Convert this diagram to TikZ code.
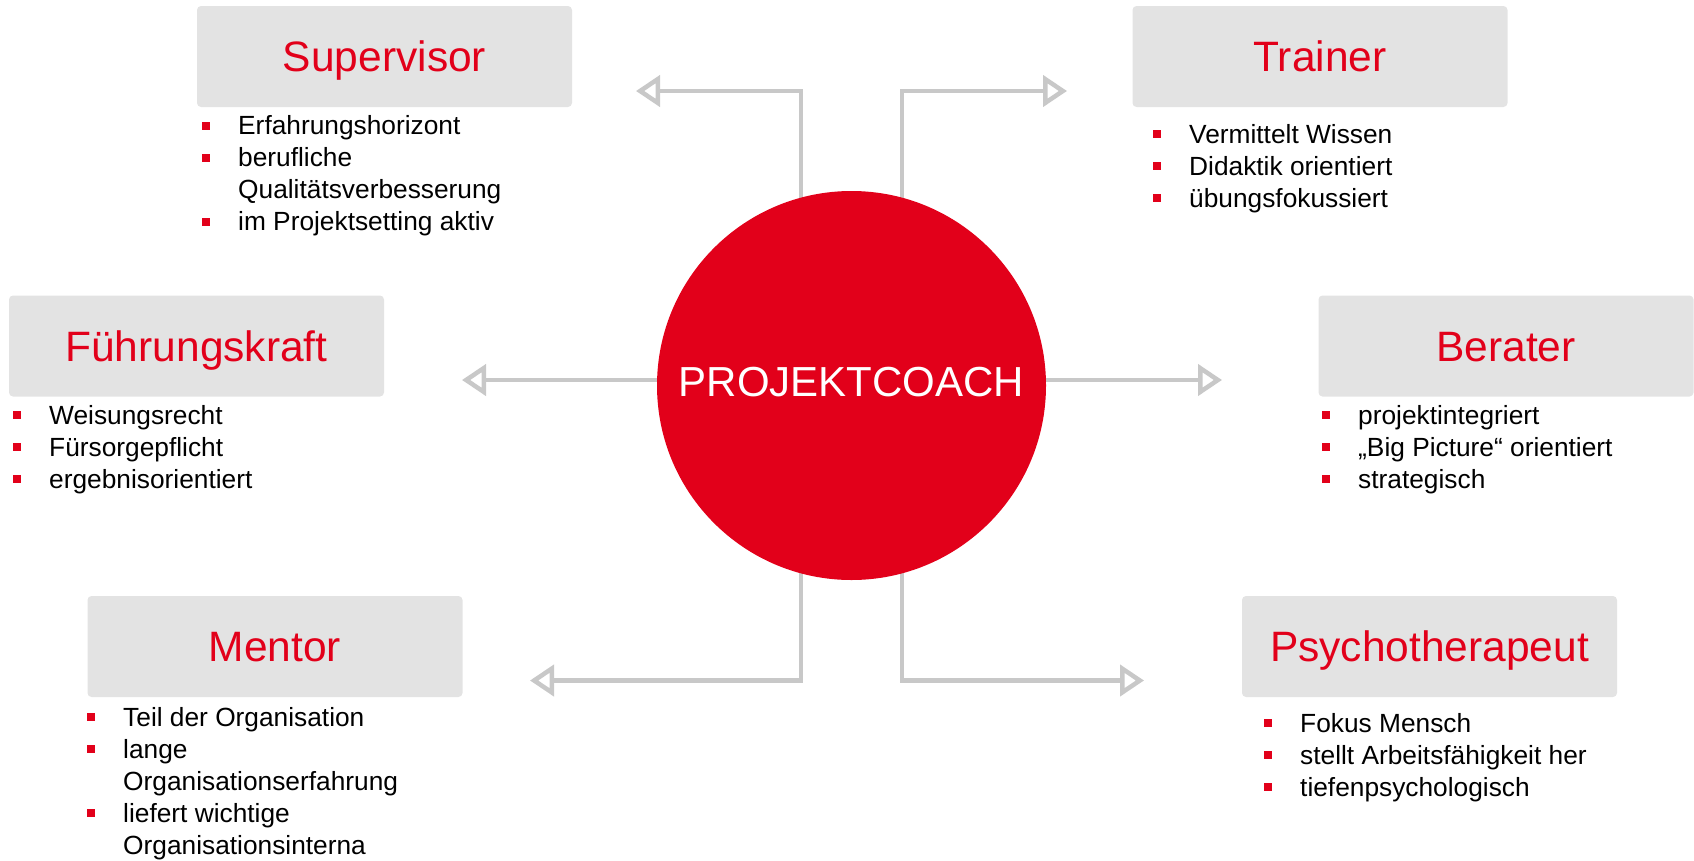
\documentclass[tikz,border=0pt]{standalone}
\usepackage{fontspec}
\setmainfont{Liberation Sans}
\usetikzlibrary{arrows.meta,backgrounds}
\definecolor{cred}{HTML}{E2001A}
\definecolor{cbox}{HTML}{E3E3E3}
\definecolor{cline}{HTML}{C8C8C8}
\newcommand{\bul}{\makebox[36pt][l]{\textcolor{cred}{\rule[5.3pt]{8pt}{8pt}}}}
\begin{document}
\begin{tikzpicture}[x=1pt,y=-1pt,
  rolebox/.style={fill=cbox, rounded corners=4pt, minimum width=375pt, minimum height=101pt,
    inner sep=0pt, text=cred, font=\fontsize{42.5}{50}\selectfont, text height=30pt, text depth=0pt},
  hub/.style={circle, fill=cred, minimum size=389pt, inner sep=0pt, text=white,
    font=\fontsize{42}{50}\selectfont, text height=30pt, text depth=8pt},
  blist/.style={anchor=base west, inner sep=0pt, font=\fontsize{26.3}{32}\selectfont},
  conn/.style={draw=cline, line width=4.5pt, -{Triangle[open, length=24pt, width=31pt]}},
]
\useasboundingbox (0,0) rectangle (1694,860);

% role boxes
\node[rolebox] (sup) at (384.5,56.5) {Supervisor};
\node[rolebox] (tra) at (1320,56.5) {Trainer};
\node[rolebox] (fue) at (196.5,346) {Führungskraft};
\node[rolebox] (ber) at (1506,346) {Berater};
\node[rolebox] (men) at (275,646.5) {Mentor};
\node[rolebox] (psy) at (1429.5,646.5) {Psychotherapeut};

% hub
\node[hub] (pc) at (851.5,385.5) {PROJEKTCOACH};

% arrow tips (free ends)
\coordinate (tsup) at (636,91);
\coordinate (ttra) at (1067,91);
\coordinate (tfue) at (462,380);
\coordinate (tber) at (1222,380);
\coordinate (tmen) at (530,680.5);
\coordinate (tpsy) at (1144,680.5);

\begin{scope}[on background layer]
  \draw[conn] ([xshift=-50.5pt]pc.center) |- (tsup);
  \draw[conn] ([xshift=50.5pt]pc.center) |- (ttra);
  \draw[conn] ([yshift=5.5pt]pc.center) -- (tfue);
  \draw[conn] ([yshift=5.5pt]pc.center) -- (tber);
  \draw[conn] ([xshift=-50.5pt]pc.center) |- (tmen);
  \draw[conn] ([xshift=50.5pt]pc.center) |- (tpsy);
\end{scope}

% bullet lists
\node[blist] (lsup) at (202,134.8) {\begin{tabular}[t]{@{}l@{}l@{}}
  \bul & Erfahrungshorizont\\
  \bul & berufliche\\
       & Qualitätsverbesserung\\
  \bul & im Projektsetting aktiv
\end{tabular}};
\node[blist] (ltra) at (1153,143.3) {\begin{tabular}[t]{@{}l@{}l@{}}
  \bul & Vermittelt Wissen\\
  \bul & Didaktik orientiert\\
  \bul & übungsfokussiert
\end{tabular}};
\node[blist] (lfue) at (13,424) {\begin{tabular}[t]{@{}l@{}l@{}}
  \bul & Weisungsrecht\\
  \bul & Fürsorgepflicht\\
  \bul & ergebnisorientiert
\end{tabular}};
\node[blist] (lber) at (1322,424.3) {\begin{tabular}[t]{@{}l@{}l@{}}
  \bul & projektintegriert\\
  \bul & „Big Picture“ orientiert\\
  \bul & strategisch
\end{tabular}};
\node[blist] (lmen) at (87,726.5) {\begin{tabular}[t]{@{}l@{}l@{}}
  \bul & Teil der Organisation\\
  \bul & lange\\
       & Organisationserfahrung\\
  \bul & liefert wichtige\\
       & Organisationsinterna
\end{tabular}};
\node[blist] (lpsy) at (1264,732.3) {\begin{tabular}[t]{@{}l@{}l@{}}
  \bul & Fokus Mensch\\
  \bul & stellt Arbeitsfähigkeit her\\
  \bul & tiefenpsychologisch
\end{tabular}};
\end{tikzpicture}
\end{document}
